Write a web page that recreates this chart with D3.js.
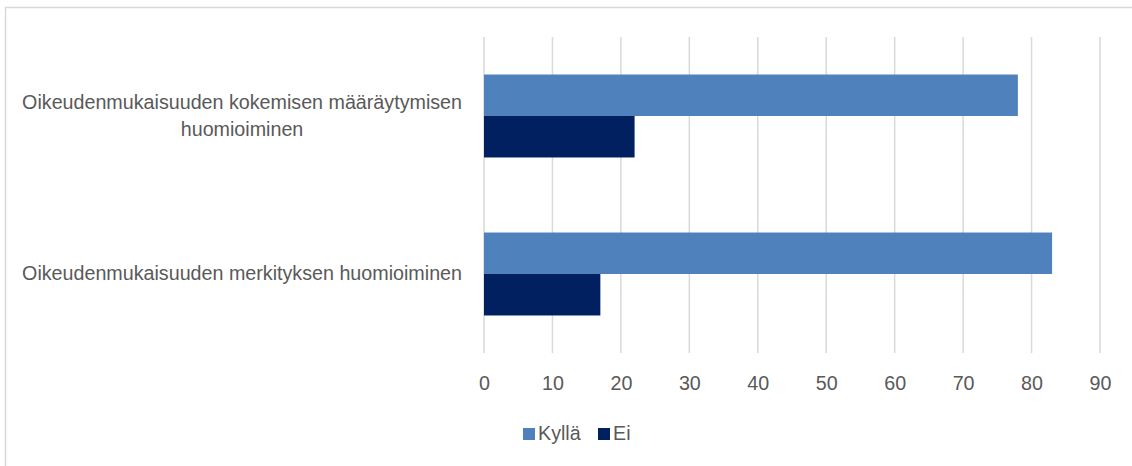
<!DOCTYPE html>
<html>
<head>
<meta charset="utf-8">
<script src="https://cdn.jsdelivr.net/npm/d3@7"></script>
<style>
  html, body { margin: 0; padding: 0; background: #ffffff; }
  svg { display: block; }
  text { font-family: "Liberation Sans", Arial, sans-serif; fill: #595959; }
</style>
</head>
<body>
<svg id="chart" width="1132" height="466"></svg>
<script>
// Category labels (each entry is the list of wrapped lines)
const categories = [
  ["Oikeudenmukaisuuden kokemisen määräytymisen", "huomioiminen"],
  ["Oikeudenmukaisuuden merkityksen huomioiminen"]
];
const seriesNames = ["Kyllä", "Ei"];
const seriesColors = ["#4f81bd", "#002060"];
const kyllaValues = [78, 83];
const eiValues = [22, 17];
const tickValues = [0, 10, 20, 30, 40, 50, 60, 70, 80, 90];

const FONT = "19.7px";
const svg = d3.select("#chart");
const W = 1132, H = 466;

// Outer frame
svg.append("rect")
  .attr("x", 5.5).attr("y", 7.5)
  .attr("width", W + 10).attr("height", H + 10)
  .attr("fill", "none").attr("stroke", "#d9d9d9").attr("stroke-width", 1.5);

const plot = { left: 484, right: 1100, top: 37, bottom: 353 };

const x = d3.scaleLinear().domain([0, 90]).range([plot.left, plot.right]);
const y0 = d3.scaleBand()
  .domain(d3.range(categories.length))
  .range([plot.top, plot.bottom])
  .paddingInner(0.475)
  .paddingOuter(0.2375);
const y1 = d3.scaleBand()
  .domain(seriesNames)
  .range([0, y0.bandwidth()]);

// Vertical gridlines
svg.append("g")
  .selectAll("line")
  .data(tickValues)
  .join("line")
  .attr("x1", d => x(d)).attr("x2", d => x(d))
  .attr("y1", plot.top).attr("y2", plot.bottom)
  .attr("stroke", "#d9d9d9").attr("stroke-width", 1.5);

// Bars
const rows = categories.map((c, i) => ({
  i,
  values: [
    { name: seriesNames[0], value: kyllaValues[i], color: seriesColors[0] },
    { name: seriesNames[1], value: eiValues[i], color: seriesColors[1] }
  ]
}));

svg.append("g")
  .selectAll("g")
  .data(rows)
  .join("g")
  .attr("transform", d => `translate(0,${y0(d.i)})`)
  .selectAll("rect")
  .data(d => d.values)
  .join("rect")
  .attr("x", x(0))
  .attr("y", d => y1(d.name))
  .attr("width", d => x(d.value) - x(0))
  .attr("height", y1.bandwidth())
  .attr("fill", d => d.color);

// X axis labels
const xAxis = d3.axisBottom(x).tickValues(tickValues).tickSize(0).tickPadding(0);
const gx = svg.append("g")
  .attr("transform", `translate(0,${plot.bottom + 37})`)
  .call(xAxis);
gx.select(".domain").remove();
gx.selectAll("text")
  .attr("dy", 0)
  .style("font-size", FONT)
  .style("font-family", null)
  .attr("font-family", null)
  .attr("fill", "#595959");
gx.attr("font-family", null).attr("font-size", null);

// Category labels: lines centred on each other, block right-aligned to the axis
const lineH = 27;
const labelRight = 462;
svg.append("g")
  .selectAll("text")
  .data(categories)
  .join("text")
  .attr("text-anchor", "middle")
  .style("font-size", FONT)
  .each(function (lines, i) {
    const t = d3.select(this);
    const cy = y0(i) + y0.bandwidth() / 2;
    const firstBaseline = cy + 6 - (lines.length - 1) * lineH / 2;
    const spans = t.selectAll("tspan")
      .data(lines)
      .join("tspan")
      .attr("y", (d, k) => firstBaseline + k * lineH)
      .text(d => d);
    let maxW = 0;
    spans.each(function () { maxW = Math.max(maxW, this.getComputedTextLength()); });
    spans.attr("x", labelRight - maxW / 2);
  });

// Legend
const legendItems = [
  { name: seriesNames[0], color: seriesColors[0], x: 523 },
  { name: seriesNames[1], color: seriesColors[1], x: 598 }
];
const lg = svg.append("g").selectAll("g").data(legendItems).join("g")
  .attr("transform", d => `translate(${d.x},428)`);
lg.append("rect").attr("width", 12).attr("height", 12).attr("fill", d => d.color);
lg.append("text").attr("x", 15).attr("y", 12).style("font-size", FONT).text(d => d.name);
</script>
</body>
</html>
